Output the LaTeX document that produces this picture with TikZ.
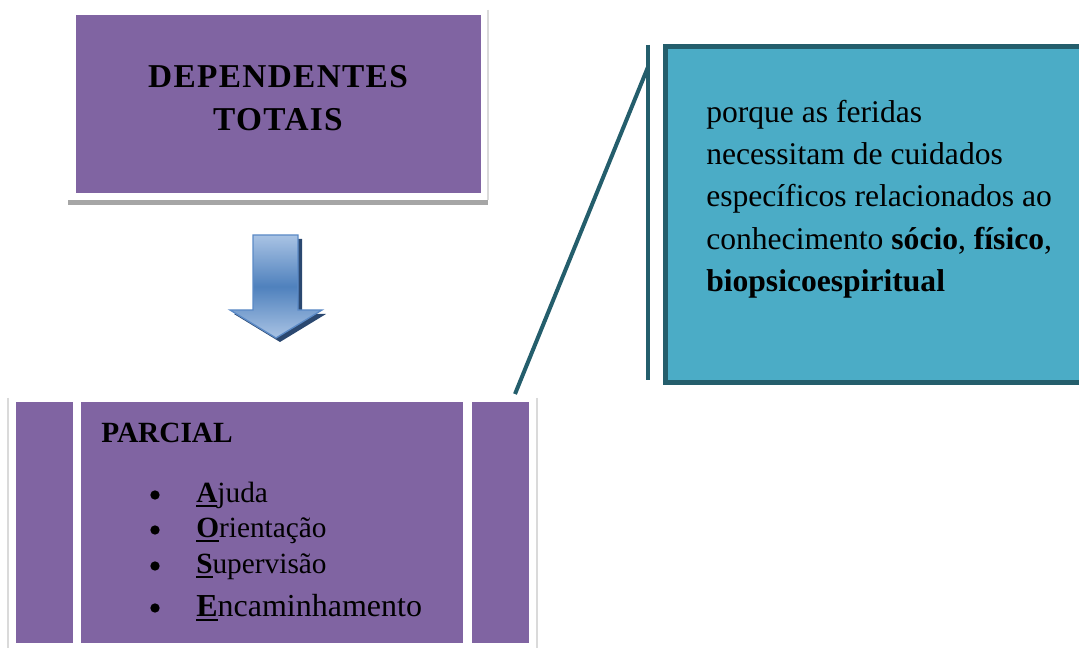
\documentclass[tikz,border=0pt]{standalone}
\usepackage{fontspec}
\setmainfont{Liberation Serif}
\definecolor{purp}{HTML}{8064A2}
\definecolor{cyanfill}{HTML}{4BACC6}
\definecolor{tealedge}{HTML}{245E6C}
\definecolor{arrowlight}{HTML}{A9C3E4}
\definecolor{arrowmid}{HTML}{4F81BD}
\definecolor{arrowedge}{HTML}{5B8AC6}
\definecolor{arrowshadow}{HTML}{2B4870}
\definecolor{framegray}{HTML}{DADADA}
\definecolor{shadowgray}{HTML}{A6A6A6}
\newcommand\ulmark[1]{\setbox0\hbox{#1}\rlap{\rule[-3.2pt]{\wd0}{1.8pt}}\box0}
\tikzset{
  purpbox/.style={fill=purp, draw=none},
  bodytext/.style={anchor=base west, inner sep=0pt, font=\fontsize{23.7}{30}\selectfont},
  itemtext/.style={anchor=base west, inner sep=0pt, font=\fontsize{22}{26}\selectfont},
  titletext/.style={anchor=base, inner sep=0pt, font=\fontsize{25}{30}\selectfont\bfseries\addfontfeature{LetterSpace=4}},
  bulletdot/.style={circle, fill=black, inner sep=0pt, minimum size=7pt},
  tealline/.style={draw=tealedge, line width=3.6pt}
}
\begin{document}
\begin{tikzpicture}[x=0.75pt,y=-0.75pt]
\useasboundingbox (0,0) rectangle (1079,648);
% ---- top box with frame and shadow
\fill[white] (68,10) rectangle (488,200);
\draw[framegray, line width=0.8pt] (488,10) -- (488,200);
\fill[shadowgray] (68,200) rectangle (488,205);
\fill[purp] (76,15) rectangle (481,193);
\node[titletext] (dep) at (278,88) {DEPENDENTES};
\node[titletext] (tot) at (278,131) {TOTAIS};
% ---- arrow
\fill[arrowshadow] (257,239) -- (302,239) -- (302,314) -- (326,314) -- (280,342) -- (234,314) -- (257,314) -- cycle;
\shade[top color=arrowlight, bottom color=arrowlight, middle color=arrowmid, draw=arrowedge, line width=1pt]
  (253,235) -- (298,235) -- (298,310) -- (322,310) -- (276,338) -- (230,310) -- (253,310) -- cycle;
\coordinate (arrowtip) at (276,338);
% ---- callout box
\node[draw=tealedge, line width=3.8pt, fill=cyanfill, anchor=north west, minimum width=440*0.75pt, minimum height=336*0.75pt, inner sep=0pt] (callout) at (663,44) {};
\coordinate (bartop) at (648,45);
\coordinate (barbot) at (648,380);
\coordinate (barjoin) at (648,67);
\coordinate (pointer) at (515,394);
\draw[tealline] (bartop) -- (barbot);
\draw[tealedge, line width=3pt] (barjoin) -- (pointer);
\node[bodytext] (l1) at (706,123) {porque as feridas};
\node[bodytext] (l2) at (706,165) {necessitam de cuidados};
\node[bodytext] (l3) at (706,207) {específicos relacionados ao};
\node[bodytext] (l4) at (706,250) {conhecimento \textbf{sócio}, \textbf{físico},};
\node[bodytext] (l5) at (706,292) {\textbf{biopsicoespiritual}};
% ---- bottom boxes
\draw[framegray, line width=0.8pt] (8,398) -- (8,648);
\draw[framegray, line width=0.8pt] (537,398) -- (537,648);
\fill[purp] (16,402) rectangle (73,643);
\fill[purp] (81,402) rectangle (463,643);
\fill[purp] (472,402) rectangle (529,643);
\node[itemtext, font=\fontsize{22}{26}\selectfont\bfseries] (parcial) at (101,443) {PARCIAL};
\node[bulletdot] (b1) at (155,495) {};
\node[bulletdot] (b2) at (155,530) {};
\node[bulletdot] (b3) at (155,566) {};
\node[bulletdot] (b4) at (155,608) {};
\node[itemtext] (i1) at (196,503) {\ulmark{\textbf{A}}juda};
\node[itemtext] (i2) at (196,538) {\ulmark{\textbf{O}}rientação};
\node[itemtext] (i3) at (196,574) {\ulmark{\textbf{S}}upervisão};
\node[itemtext, font=\fontsize{24}{28}\selectfont] (i4) at (196,617) {\ulmark{\textbf{E}}ncaminhamento};
\end{tikzpicture}
\end{document}
